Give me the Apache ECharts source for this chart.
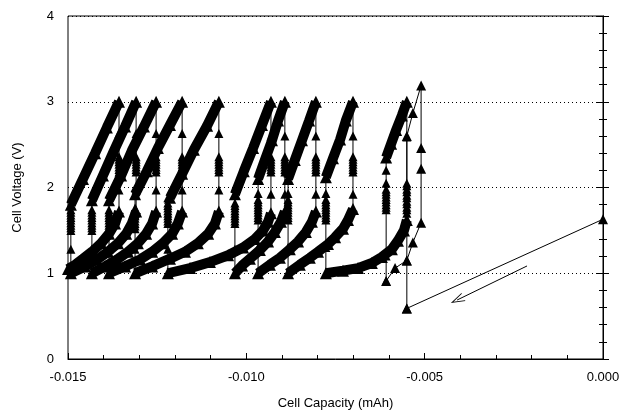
<!DOCTYPE html>
<html><head><meta charset="utf-8">
<script src="https://cdn.jsdelivr.net/npm/echarts@6/dist/echarts.min.js"></script>
<style>html,body{margin:0;padding:0;background:#fff}#c{width:623px;height:415px}</style>
</head><body><div id="c"></div>
<script>
// ---- axis ranges ----
const xRange = [-0.015, 0.000];
const yRange = [0, 4];

// ---- first (partial) cycle at the right: [capacity mAh, voltage V] ----
const initialStep = [[0.0000, 1.63], [-0.00550, 0.59]];
const firstCycle = [[-0.00550, 0.59], [-0.00550, 1.15], [-0.00533, 1.36], [-0.00510, 1.59], [-0.00510, 2.22],
  [-0.00510, 2.46], [-0.00510, 3.19], [-0.00533, 2.87], [-0.00550, 2.60], [-0.00550, 1.15],
  [-0.00583, 1.06], [-0.00608, 0.91]];

// ---- charge curves (voltage rising to 3.0 V) ----
const chargeCurves = [
  [[-0.01492,1.80],[-0.01458,2.10],[-0.01424,2.40],[-0.01391,2.70],[-0.01357,3.00]],
  [[-0.01433,1.85],[-0.01402,2.14],[-0.01371,2.43],[-0.01340,2.71],[-0.01309,3.00]],
  [[-0.01385,1.85],[-0.01351,2.14],[-0.01321,2.43],[-0.01287,2.71],[-0.01253,3.00]],
  [[-0.01312,1.92],[-0.01279,2.19],[-0.01248,2.46],[-0.01214,2.73],[-0.01180,3.00]],
  [[-0.01214,1.88],[-0.01180,2.16],[-0.01147,2.44],[-0.01110,2.72],[-0.01077,3.00]],
  [[-0.01032,1.92],[-0.01007,2.19],[-0.00981,2.46],[-0.00956,2.73],[-0.00931,3.00]],
  [[-0.00967,2.10],[-0.00948,2.32],[-0.00928,2.55],[-0.00911,2.78],[-0.00892,3.00]],
  [[-0.00883,2.10],[-0.00864,2.32],[-0.00844,2.55],[-0.00824,2.78],[-0.00805,3.00]],
  [[-0.00777,2.12],[-0.00757,2.34],[-0.00737,2.56],[-0.00721,2.78],[-0.00701,3.00]],
  [[-0.00608,2.35],[-0.00594,2.51],[-0.00580,2.67],[-0.00564,2.84],[-0.00550,3.00]]
];

// ---- discharge curves (voltage falling to 1.0 V) ----
const dischargeCurves = [
  [[-0.00550,1.62],[-0.00558,1.50],[-0.00575,1.38],[-0.00592,1.28],[-0.00620,1.19],[-0.00648,1.12],[-0.00687,1.06],[-0.00729,1.03],[-0.00777,1.00]],
  [[-0.00701,1.75],[-0.00715,1.62],[-0.00729,1.52],[-0.00751,1.42],[-0.00771,1.34],[-0.00799,1.25],[-0.00822,1.18],[-0.00850,1.10],[-0.00883,1.00]],
  [[-0.00805,1.72],[-0.00816,1.60],[-0.00833,1.48],[-0.00855,1.37],[-0.00878,1.28],[-0.00906,1.18],[-0.00934,1.10],[-0.00967,1.00]],
  [[-0.00892,1.72],[-0.00903,1.60],[-0.00920,1.48],[-0.00939,1.37],[-0.00962,1.27],[-0.00990,1.17],[-0.01012,1.09],[-0.01032,1.00]],
  [[-0.00931,1.70],[-0.00939,1.60],[-0.00953,1.50],[-0.00976,1.40],[-0.01009,1.30],[-0.01051,1.21],[-0.01102,1.13],[-0.01158,1.06],[-0.01220,1.00]],
  [[-0.01077,1.72],[-0.01088,1.58],[-0.01107,1.46],[-0.01136,1.35],[-0.01172,1.25],[-0.01214,1.17],[-0.01264,1.08],[-0.01312,1.00]],
  [[-0.01180,1.72],[-0.01192,1.58],[-0.01208,1.46],[-0.01234,1.35],[-0.01264,1.25],[-0.01298,1.16],[-0.01340,1.08],[-0.01385,1.00]],
  [[-0.01253,1.72],[-0.01264,1.58],[-0.01281,1.46],[-0.01304,1.35],[-0.01332,1.25],[-0.01363,1.16],[-0.01396,1.08],[-0.01433,1.00]],
  [[-0.01309,1.72],[-0.01321,1.58],[-0.01337,1.46],[-0.01360,1.35],[-0.01388,1.25],[-0.01419,1.16],[-0.01452,1.08],[-0.01492,1.00]],
  [[-0.01357,1.72],[-0.01368,1.58],[-0.01385,1.46],[-0.01407,1.35],[-0.01433,1.25],[-0.01458,1.17],[-0.01480,1.10],[-0.01500,1.05]]
];

// ---- rest periods after charge (capacity constant) ----
const chargeEndCaps = [-0.01357,-0.01309,-0.01253,-0.01180,-0.01077,-0.00931,-0.00892,-0.00805,-0.00701,-0.00550];
const chargeRestVolts = [
  [3.0,2.63,2.36,2.33,2.30,2.27,2.24,2.21,2.18,1.97,1.72],
  [3.0,2.63,2.36,2.33,2.30,2.27,2.24,2.21,2.18,1.97,1.72],
  [3.0,2.63,2.36,2.33,2.30,2.27,2.24,2.21,2.18,1.97,1.72],
  [3.0,2.63,2.36,2.33,2.30,2.27,2.24,2.21,2.18,1.97,1.72],
  [3.0,2.63,2.36,2.33,2.30,2.27,2.24,2.21,2.18,1.97,1.72],
  [3.0,2.60,2.36,2.33,2.30,2.27,2.24,2.21,2.18,1.92,1.70],
  [3.0,2.60,2.36,2.33,2.30,2.27,2.24,2.21,2.18,1.92,1.72],
  [3.0,2.60,2.36,2.33,2.30,2.27,2.24,2.21,2.18,1.92,1.72],
  [3.0,2.60,2.36,2.33,2.30,2.27,2.24,2.21,2.18,1.92,1.75],
  [3.0,2.59,2.05,2.02,1.98,1.95,1.91,1.88,1.84,1.81,1.77,1.74,1.70,1.62]
];

// ---- rest periods after discharge ----
const dischargeEndCaps = [-0.01492,-0.01433,-0.01385,-0.01312,-0.01220,-0.01032,-0.00967,-0.00883,-0.00777,-0.00608];
const dischargeRestVolts = [
  [1.0,1.28,1.50,1.53,1.56,1.59,1.62,1.65,1.68,1.71,1.74,1.80],
  [1.0,1.28,1.50,1.53,1.56,1.59,1.62,1.65,1.68,1.71,1.74,1.85],
  [1.0,1.28,1.50,1.53,1.56,1.59,1.62,1.65,1.68,1.71,1.74,1.85],
  [1.0,1.28,1.52,1.55,1.58,1.61,1.64,1.67,1.70,1.73,1.76,1.92],
  [1.0,1.28,1.58,1.61,1.64,1.67,1.70,1.73,1.76,1.79,1.82,1.88],
  [1.0,1.28,1.58,1.61,1.64,1.67,1.70,1.73,1.76,1.79,1.82,1.92],
  [1.0,1.30,1.62,1.65,1.68,1.71,1.74,1.77,1.80,1.83,1.86,1.93,2.10],
  [1.0,1.30,1.62,1.65,1.68,1.71,1.74,1.77,1.80,1.83,1.86,1.93,2.10],
  [1.0,1.30,1.62,1.65,1.68,1.71,1.74,1.77,1.80,1.83,1.86,1.93,2.12],
  [0.91,1.20,1.74,1.77,1.80,1.83,1.86,1.89,1.92,1.95,1.98,2.05,2.20,2.35]
];

// ---- direction arrow ----
const arrowFrom = [-0.00213, 1.085];
const arrowTo = [-0.00409, 0.688];

const FONT = 'Liberation Sans, Arial, sans-serif';
const series = [];
const tri = 'triangle';

function thin(data, size) {
  return { type: 'line', data: data, symbol: tri, symbolSize: size || 9,
    lineStyle: { color: '#000', width: 1 }, itemStyle: { color: '#000' }, z: 2, silent: true };
}
function band(data) {
  return { type: 'line', data: data, symbol: tri, symbolSize: 12,
    lineStyle: { color: '#000', width: 10 }, itemStyle: { color: '#000' }, z: 3, silent: true };
}

chargeEndCaps.forEach((c, i) => series.push(thin(chargeRestVolts[i].map(v => [c, v]))));
dischargeEndCaps.forEach((c, i) => series.push(thin(dischargeRestVolts[i].map(v => [c, v]))));
chargeCurves.forEach(d => series.push(band(d)));
dischargeCurves.forEach(d => series.push(band(d)));
series.push(thin(firstCycle, 10));
const s0 = thin(initialStep, 10);
s0.markLine = {
  silent: true, animation: false,
  symbol: ['none', 'path://M5,0 L10,14 L9,14 L5,3 L1,14 L0,14 Z'],
  symbolSize: [9, 14],
  label: { show: false },
  lineStyle: { color: '#000', width: 1, type: 'solid' },
  data: [[{ coord: arrowFrom }, { coord: arrowTo }]]
};
series.push(s0);

const chart = echarts.init(document.getElementById('c'), null, { renderer: 'canvas' });
chart.setOption({
  animation: false,
  backgroundColor: '#fff',
  grid: { left: 68, right: 20, top: 16, bottom: 56, show: true, borderColor: '#000', borderWidth: 1 },
  xAxis: [{
    type: 'value', min: xRange[0], max: xRange[1], interval: 0.005,
    name: 'Cell Capacity (mAh)', nameLocation: 'middle', nameGap: 38,
    nameTextStyle: { fontFamily: FONT, fontSize: 13, color: '#000' },
    axisLine: { show: true, lineStyle: { color: '#000', width: 1 } },
    axisTick: { show: true, inside: true, length: 6, lineStyle: { color: '#000' } },
    minorTick: { show: true, splitNumber: 5, length: 4, lineStyle: { color: '#000' } },
    axisLabel: { fontFamily: FONT, fontSize: 13, color: '#000', margin: 12, formatter: v => v.toFixed(3) },
    splitLine: { show: false }
  }],
  yAxis: [{
    type: 'value', min: yRange[0], max: yRange[1], interval: 1,
    name: 'Cell Voltage (V)', nameLocation: 'middle', nameGap: 44, nameRotate: 90,
    nameTextStyle: { fontFamily: FONT, fontSize: 13, color: '#000' },
    axisLine: { show: true, lineStyle: { color: '#000', width: 1 } },
    axisTick: { show: true, inside: true, length: 6, lineStyle: { color: '#000' } },
    minorTick: { show: true, splitNumber: 5, length: 4, lineStyle: { color: '#000' } },
    axisLabel: { fontFamily: FONT, fontSize: 13, color: '#000', margin: 14 },
    splitLine: { show: true, lineStyle: { color: '#000', type: [1, 3], width: 1 } }
  }, {
    type: 'value', min: yRange[0], max: yRange[1], interval: 1, position: 'right',
    axisLine: { show: true, lineStyle: { color: '#000', width: 1 } },
    axisTick: { show: true, inside: true, length: 6, lineStyle: { color: '#000' } },
    minorTick: { show: true, splitNumber: 5, length: 4, lineStyle: { color: '#000' } },
    axisLabel: { show: false }, splitLine: { show: false }
  }],
  series: series
});
</script></body></html>
